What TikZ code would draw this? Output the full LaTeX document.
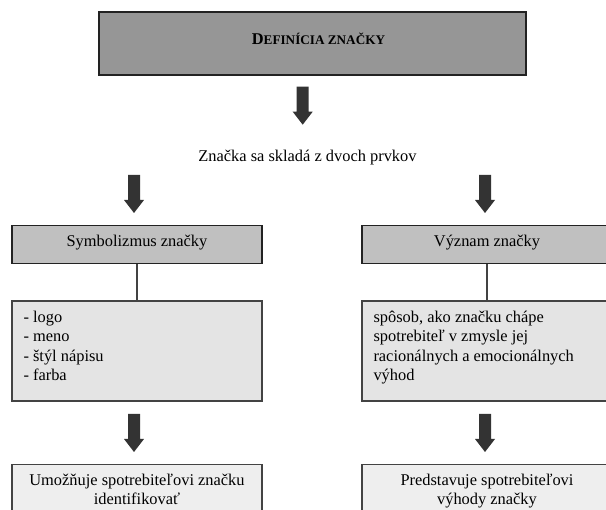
\documentclass[tikz,border=0pt]{standalone}
\usepackage{fontspec}
\setmainfont{Liberation Serif}
\usetikzlibrary{calc}
\definecolor{headfill}{HTML}{969696}
\definecolor{partfill}{HTML}{C0C0C0}
\definecolor{listfill}{HTML}{E4E4E4}
\definecolor{resultfill}{HTML}{EEEEEE}
\definecolor{edge}{HTML}{222222}
\definecolor{arrowgray}{HTML}{333333}
\tikzset{
  headbox/.style={draw=edge, line width=1.8pt, fill=headfill, minimum width=427, minimum height=63.3, inner sep=0},
  partbox/.style={draw=edge, line width=1.3pt, fill=partfill, minimum width=250, minimum height=37.6, inner sep=0},
  listbox/.style={draw=edge!85!white, line width=1.2pt, fill=listfill, minimum width=250, minimum height=100, inner sep=0},
  resultbox/.style={draw=edge!85!white, line width=1.2pt, fill=resultfill, minimum width=250, minimum height=70, inner sep=0},
  bodytext/.style={font=\fontsize{16.4}{19.5}\selectfont, inner sep=0, text=black},
  link/.style={draw=edge!85!white, line width=1.2pt},
  arrowfill/.style={fill=arrowgray}
}
% thick downward block arrow hanging from a named coordinate
\newcommand{\downblock}[1]{%
  \fill[arrowfill, shift={(#1)}] (-6,0) -- (6,0) -- (6,25) -- (10,25) -- (0,38)
    -- (-10,25) -- (-6,25) -- cycle;}
\begin{document}
\begin{tikzpicture}[x=1pt, y=-1pt]
\useasboundingbox (0,0) rectangle (606,510);
\clip (0,0) rectangle (606,510);

% heading
\node[headbox] (head) at (312.4,43.4) {};
\node[anchor=base, inner sep=0, font=\bfseries] (title) at (318.5,45)
  {\fontsize{16.4}{19.5}\selectfont D\fontsize{13.2}{19.5}\selectfont EFINÍCIA ZNAČKY};

\coordinate (a0) at (302.7,86.7);
\downblock{a0}

\node[bodytext, anchor=base] (split) at (307.5,161.5) {Značka sa skladá z dvoch prvkov};

\coordinate (a1) at (134,175);
\coordinate (a2) at (485,175);
\downblock{a1}
\downblock{a2}

% the two components
\node[partbox] (sym) at (137,244.5) {};
\node[bodytext, anchor=base] (symlabel) at (137,247) {Symbolizmus značky};
\node[partbox] (mean) at (487,244.5) {};
\node[bodytext, anchor=base] (meanlabel) at (487,247) {Význam značky};

\node[listbox] (symlist) at (137,351) {};
\node[listbox] (meanlist) at (487,351) {};
\draw[link] (sym.south) -- (symlist.north);
\draw[link] (mean.south) -- (meanlist.north);

\node[bodytext, align=left, anchor=north west] (symtext) at (23.3,310.5)
  {- logo\\- meno\\- štýl nápisu\\- farba};
\node[bodytext, align=left, anchor=north west] (meantext) at (373.3,310.5)
  {spôsob, ako značku chápe\\spotrebiteľ v zmysle jej\\racionálnych a emocionálnych\\výhod};

\coordinate (a3) at (134,414);
\coordinate (a4) at (485,414);
\downblock{a3}
\downblock{a4}

% what each component gives the consumer
\node[resultbox] (symres) at (137,499.3) {};
\node[resultbox] (meanres) at (487,499.3) {};
\node[bodytext, align=center, anchor=north] (symrestext) at (137,473.8)
  {Umožňuje spotrebiteľovi značku\\identifikovať};
\node[bodytext, align=center, anchor=north] (meanrestext) at (487,473.8)
  {Predstavuje spotrebiteľovi\\výhody značky};
\end{tikzpicture}
\end{document}
